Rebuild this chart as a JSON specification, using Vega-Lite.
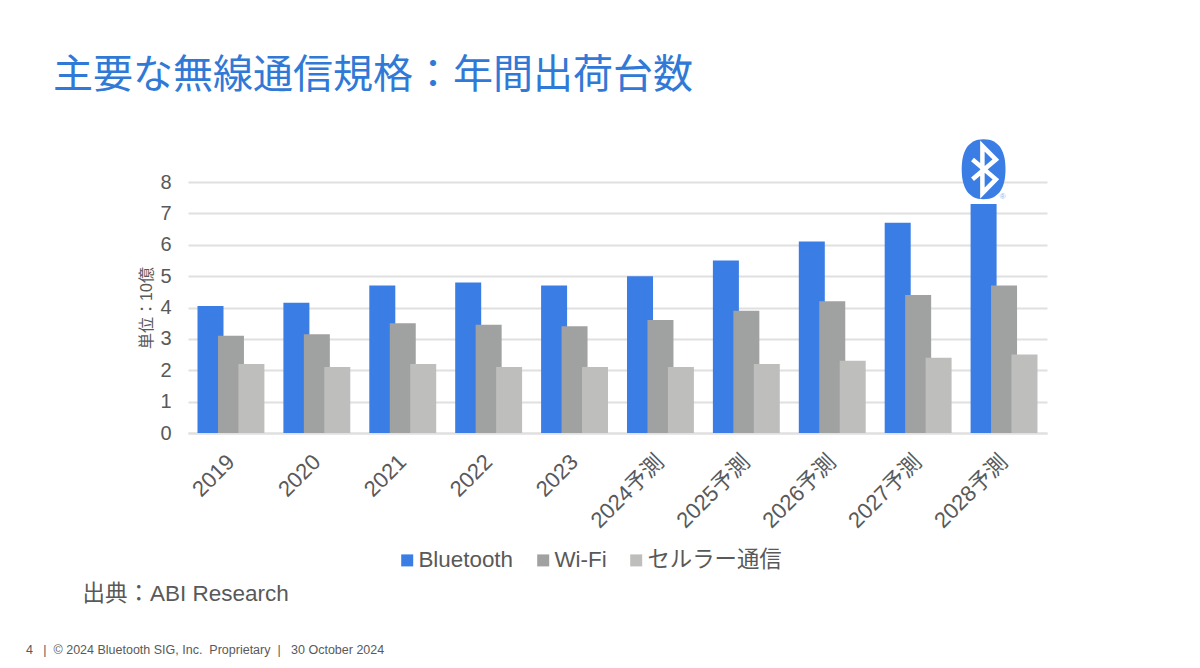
{"$schema":"https://vega.github.io/schema/vega-lite/v6.json","width":859,"height":251,"autosize":{"type":"none"},"padding":{"left":188,"top":182,"right":153,"bottom":235},"background":"#ffffff",
"title":{"text":"主要な無線通信規格：年間出荷台数","anchor":"start","frame":"group","dx":-135,"offset":1,"font":"Noto Sans CJK JP","fontSize":40,"fontWeight":"normal","color":"#3079D6","baseline":"bottom"},
"config":{"view":{"stroke":null},"font":"Liberation Sans"},
"encoding":{
"x":{"field":"year","type":"nominal","sort":null,"scale":{"paddingInner":0,"paddingOuter":0},"axis":{"labelAngle":-45,"labelAlign":"right","labelBaseline":"middle","labelFont":"Liberation Sans, Noto Sans CJK JP","labelFontSize":22,"labelColor":"#595959","labelPadding":25,"ticks":false,"domainColor":"#E0E0E0","domainWidth":2,"grid":false,"labelOverlap":false,"title":"出典：ABI Research","titleFont":"Liberation Sans, Noto Sans CJK JP","titleFontSize":22.5,"titleFontWeight":"normal","titleColor":"#595959","titleAnchor":"start","titleAlign":"left","titleBaseline":"middle","titleX":-106,"titleY":160}},
"y":{"field":"value","type":"quantitative","stack":null,"scale":{"domain":[0,8],"nice":false},"axis":{"values":[0,1,2,3,4,5,6,7,8],"labelOverlap":false,"labelFont":"Liberation Sans","labelFontSize":20,"labelColor":"#595959","labelPadding":17,"ticks":false,"domain":false,"gridColor":"#E0E0E0","gridWidth":2,"title":"単位：10億","titleFont":"Liberation Sans, Noto Sans CJK JP","titleFontSize":16,"titleFontWeight":"normal","titleColor":"#595959","titlePadding":5}}},
"layer":[
{"data":{"values":[
{"year":"2019","series":"Bluetooth","value":4.05},{"year":"2020","series":"Bluetooth","value":4.15},{"year":"2021","series":"Bluetooth","value":4.7},{"year":"2022","series":"Bluetooth","value":4.8},{"year":"2023","series":"Bluetooth","value":4.7},{"year":"2024予測","series":"Bluetooth","value":5.0},{"year":"2025予測","series":"Bluetooth","value":5.5},{"year":"2026予測","series":"Bluetooth","value":6.1},{"year":"2027予測","series":"Bluetooth","value":6.7},{"year":"2028予測","series":"Bluetooth","value":7.3},
{"year":"2019","series":"Wi-Fi","value":3.1},{"year":"2020","series":"Wi-Fi","value":3.15},{"year":"2021","series":"Wi-Fi","value":3.5},{"year":"2022","series":"Wi-Fi","value":3.45},{"year":"2023","series":"Wi-Fi","value":3.4},{"year":"2024予測","series":"Wi-Fi","value":3.6},{"year":"2025予測","series":"Wi-Fi","value":3.9},{"year":"2026予測","series":"Wi-Fi","value":4.2},{"year":"2027予測","series":"Wi-Fi","value":4.4},{"year":"2028予測","series":"Wi-Fi","value":4.7},
{"year":"2019","series":"セルラー通信","value":2.2},{"year":"2020","series":"セルラー通信","value":2.1},{"year":"2021","series":"セルラー通信","value":2.2},{"year":"2022","series":"セルラー通信","value":2.1},{"year":"2023","series":"セルラー通信","value":2.1},{"year":"2024予測","series":"セルラー通信","value":2.1},{"year":"2025予測","series":"セルラー通信","value":2.2},{"year":"2026予測","series":"セルラー通信","value":2.3},{"year":"2027予測","series":"セルラー通信","value":2.4},{"year":"2028予測","series":"セルラー通信","value":2.5}]},
"mark":{"type":"bar","width":26},
"encoding":{
"xOffset":{"field":"series","type":"nominal","scale":{"domain":["Bluetooth","Wi-Fi","セルラー通信"],"paddingInner":0,"paddingOuter":0.6}},
"color":{"field":"series","type":"nominal","scale":{"domain":["Bluetooth","Wi-Fi","セルラー通信"],"range":["#3A7DE4","#A0A1A1","#BEBFBD"]},"legend":{"orient":"none","direction":"horizontal","legendX":208,"legendY":367,"title":null,"symbolType":"square","symbolSize":144,"symbolStrokeWidth":0,"labelFont":"Liberation Sans, Noto Sans CJK JP","labelFontSize":22.4,"labelColor":"#595959","labelOffset":0,"columnPadding":18}}}},
{"data":{"values":[{"year":"2028予測","series":"Bluetooth","value":8.41}]},
"mark":{"type":"point","filled":true,"size":3600,"fill":"#3A7DE4","opacity":1,"shape":"M0,-1C0.55,-1 0.73,-0.55 0.73,0C0.73,0.55 0.55,1 0,1C-0.55,1 -0.73,0.55 -0.73,0C-0.73,-0.55 -0.55,-1 0,-1Z"},
"encoding":{"xOffset":{"field":"series","type":"nominal"}}},
{"data":{"values":[{"year":"2028予測","series":"Bluetooth","value":8.41}]},
"mark":{"type":"point","filled":false,"size":3600,"stroke":"#ffffff","strokeWidth":4.5,"opacity":1,"shape":"M-0.37,-0.32L0.41,0.34L-0.04,0.8V-0.77L0.41,-0.32L-0.37,0.34"},
"encoding":{"xOffset":{"field":"series","type":"nominal"}}},
{"data":{"values":[{"year":"2028予測","series":"Bluetooth","value":7.53,"label":"®"}]},
"mark":{"type":"text","fontSize":8,"color":"#8FB4E8","dx":19,"font":"Liberation Sans"},
"encoding":{"xOffset":{"field":"series","type":"nominal"},"text":{"field":"label"}}},
{"data":{"values":[{"year":"2019","value":-6.92,"label":"4\u00a0\u00a0\u00a0|\u00a0\u00a0© 2024 Bluetooth SIG, Inc.\u00a0\u00a0Proprietary\u00a0\u00a0|\u00a0\u00a0\u00a030 October 2024"}]},
"mark":{"type":"text","fontSize":12.5,"color":"#595959","align":"left","dx":-205,"font":"Liberation Sans"},
"encoding":{"text":{"field":"label"}}}
]}
